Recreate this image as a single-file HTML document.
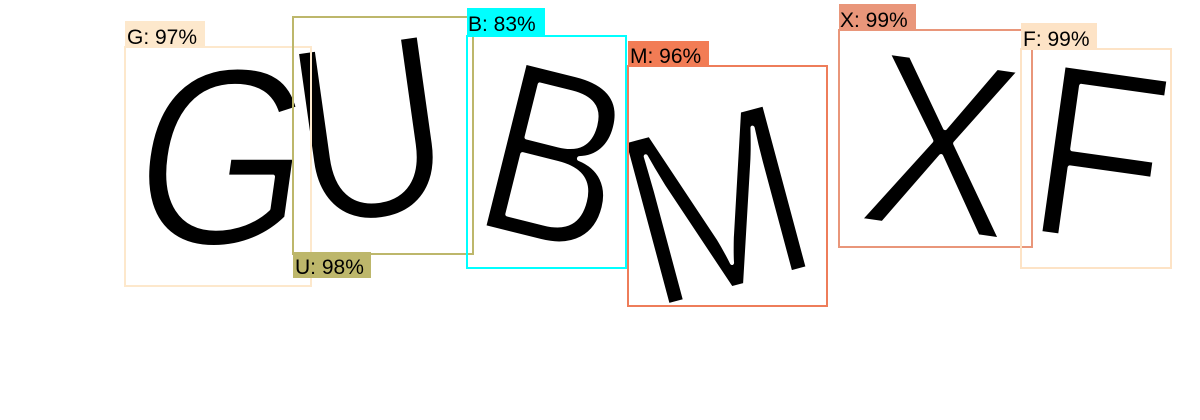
<!DOCTYPE html>
<html><head><meta charset="utf-8"><style>
body{margin:0;background:#fff;width:1200px;height:420px;overflow:hidden}
svg{display:block}
.lt{font-family:"Liberation Sans",sans-serif;font-size:21px;fill:#000}
.big{font-family:"Liberation Sans",sans-serif;fill:#000;font-size:255px;stroke:#fff;stroke-width:5;stroke-linejoin:round}
</style></head><body>
<svg width="1200" height="420">
<g>
<text class="big" x="0" y="0" text-anchor="middle" transform="translate(212,245) skewX(-8) scale(0.88,1)">G</text>
<text class="big" x="0" y="0" text-anchor="middle" transform="translate(382,217) rotate(-8) scale(0.85,1)">U</text>
<text class="big" x="0" y="0" text-anchor="middle" transform="translate(535,240) rotate(14) scale(0.82,0.97)">B</text>
<text class="big" x="0" y="0" text-anchor="middle" transform="translate(738,287) rotate(-15) scale(0.85,0.97)">M</text>
<text class="big" x="0" y="0" text-anchor="middle" transform="translate(930,230) rotate(8) scale(0.9,0.97)">X</text>
<text class="big" x="0" y="0" text-anchor="middle" transform="translate(1088,240) rotate(8) scale(0.85,0.97)">F</text>
</g>
<g fill="none" stroke-width="2">
<rect x="125" y="47" width="186" height="239" stroke="#fde8cc"/>
<rect x="293" y="17" width="180" height="237" stroke="#bdb76b"/>
<rect x="467" y="36" width="159" height="232" stroke="#00ffff"/>
<rect x="628" y="66" width="199" height="240" stroke="#ee7d5a"/>
<rect x="839" y="30" width="193" height="217" stroke="#e9967a"/>
<rect x="1021" y="49" width="150" height="219" stroke="#fde3c6"/>
</g>
<g><rect x="125" y="21" width="80" height="26" fill="#fde8cc"/><text class="lt" x="127" y="44">G: 97%</text></g>
<g><rect x="293" y="252" width="78" height="26" fill="#bdb76b"/><text class="lt" x="295" y="274">U: 98%</text></g>
<g><rect x="467" y="8" width="78" height="28" fill="#00ffff"/><text class="lt" x="468" y="31">B: 83%</text></g>
<g><rect x="628" y="41" width="81" height="25" fill="#f27c55"/><text class="lt" x="630" y="63">M: 96%</text></g>
<g><rect x="839" y="4" width="77" height="26" fill="#e9967a"/><text class="lt" x="840" y="27">X: 99%</text></g>
<g><rect x="1021" y="23" width="76" height="26" fill="#fde3c6"/><text class="lt" x="1023" y="46">F: 99%</text></g>
</svg>
</body></html>
